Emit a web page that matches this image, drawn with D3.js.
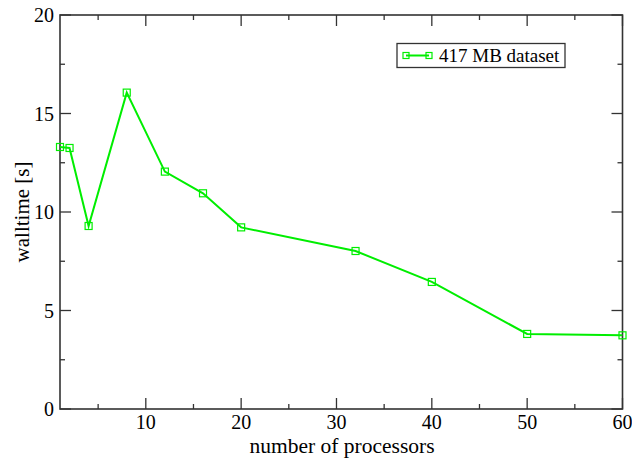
<!DOCTYPE html>
<html><head><meta charset="utf-8">
<script src="https://cdn.jsdelivr.net/npm/d3@7"></script>
<style>body{margin:0;background:#fff} text{font-family:"Liberation Serif","Times New Roman","DejaVu Serif",serif}</style>
</head><body>
<script>
const processors = [1, 2, 4, 8, 12, 16, 20, 32, 40, 50, 60];
const walltime = [13.3, 13.25, 9.29, 16.06, 12.05, 10.95, 9.22, 8.02, 6.45, 3.81, 3.74];
const xTicks = [10, 20, 30, 40, 50, 60];
const xMinor = [5, 15, 25, 35, 45, 55];
const yTicks = [0, 5, 10, 15, 20];
const yMinor = [2.5, 7.5, 12.5, 17.5];
const seriesName = "417 MB dataset";

const W = 632, H = 458;
const m = {l: 60, r: 9.5, t: 15, b: 49};
const svg = d3.select("body").append("svg").attr("width", W).attr("height", H);
const x = d3.scaleLinear().domain([1, 60]).range([m.l, W - m.r]);
const y = d3.scaleLinear().domain([0, 20]).range([H - m.b, m.t]);
const axCol = "#333";

// frame
svg.append("rect").attr("x", x(1)).attr("y", y(20)).attr("width", x(60) - x(1)).attr("height", y(0) - y(20))
  .attr("fill", "none").attr("stroke", axCol).attr("stroke-width", 1.6);

const g = svg.append("g").attr("stroke", axCol).attr("stroke-width", 1.3);
xTicks.forEach(v => {
  g.append("line").attr("x1", x(v)).attr("x2", x(v)).attr("y1", y(0)).attr("y2", y(0) - 11);
  g.append("line").attr("x1", x(v)).attr("x2", x(v)).attr("y1", y(20)).attr("y2", y(20) + 11);
});
xMinor.forEach(v => {
  g.append("line").attr("x1", x(v)).attr("x2", x(v)).attr("y1", y(0)).attr("y2", y(0) - 5);
  g.append("line").attr("x1", x(v)).attr("x2", x(v)).attr("y1", y(20)).attr("y2", y(20) + 5);
});
yTicks.forEach(v => {
  g.append("line").attr("x1", x(1)).attr("x2", x(1) + 11).attr("y1", y(v)).attr("y2", y(v));
  g.append("line").attr("x1", x(60)).attr("x2", x(60) - 11).attr("y1", y(v)).attr("y2", y(v));
});
yMinor.forEach(v => {
  g.append("line").attr("x1", x(1)).attr("x2", x(1) + 5).attr("y1", y(v)).attr("y2", y(v));
  g.append("line").attr("x1", x(60)).attr("x2", x(60) - 5).attr("y1", y(v)).attr("y2", y(v));
});

// tick labels
svg.append("g").selectAll("text").data(xTicks).join("text")
  .attr("x", d => x(d)).attr("y", y(0) + 19.5).attr("text-anchor", "middle")
  .attr("font-size", 20).attr("fill", "#000").text(d => d);
svg.append("g").selectAll("text").data(yTicks).join("text")
  .attr("x", x(1) - 6).attr("y", d => y(d) + 7).attr("text-anchor", "end")
  .attr("font-size", 20).attr("fill", "#000").text(d => d);

// axis titles
svg.append("text").attr("x", 342).attr("y", H - 5.5).attr("text-anchor", "middle")
  .attr("font-size", 21.5).text("number of processors");
svg.append("text").attr("transform", `translate(29,212) rotate(-90)`).attr("text-anchor", "middle")
  .attr("font-size", 21).text("walltime [s]");

// series
const green = "#00ee00";
const line = d3.line().x((d, i) => x(processors[i])).y(d => y(d));
svg.append("path").datum(walltime).attr("d", line).attr("fill", "none").attr("stroke", green).attr("stroke-width", 2);
svg.append("g").selectAll("rect").data(walltime).join("rect")
  .attr("x", (d, i) => x(processors[i]) - 3.5).attr("y", d => y(d) - 3.5).attr("width", 7).attr("height", 7)
  .attr("fill", "none").attr("stroke", green).attr("stroke-width", 1.2);

// legend
const lg = svg.append("g");
lg.append("rect").attr("x", 397).attr("y", 43.5).attr("width", 168).attr("height", 24)
  .attr("fill", "#fff").attr("stroke", axCol).attr("stroke-width", 1.3);
lg.append("line").attr("x1", 406).attr("x2", 429).attr("y1", 55.5).attr("y2", 55.5).attr("stroke", green).attr("stroke-width", 2);
[406, 429].forEach(cx => lg.append("rect").attr("x", cx - 3).attr("y", 52.5).attr("width", 6).attr("height", 6)
  .attr("fill", "none").attr("stroke", green).attr("stroke-width", 1.2));
lg.append("text").attr("x", 439).attr("y", 62).attr("font-size", 19).text(seriesName);
</script>
</body></html>
